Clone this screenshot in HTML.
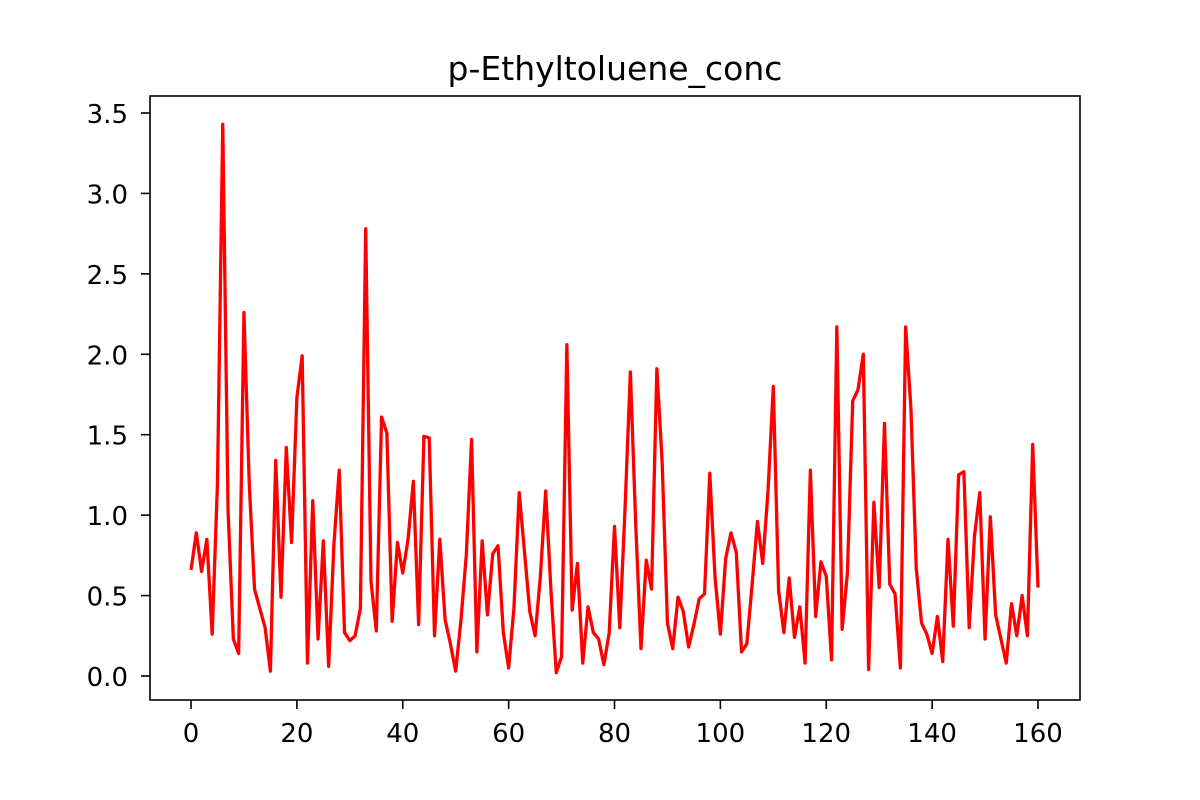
<!DOCTYPE html>
<html><head><meta charset="utf-8"><style>html,body{margin:0;padding:0;background:#fff}svg{display:block}</style></head>
<body>
<svg id="chart" width="1200" height="800" xmlns="http://www.w3.org/2000/svg">
<rect x="0" y="0" width="1200" height="800" fill="#fff"/>
<text x="615" y="80" text-anchor="middle" font-family="DejaVu Sans, sans-serif" font-size="33">p-Ethyltoluene_conc</text>
<g id="axes"></g>
<polyline id="line" fill="none" stroke="#ff0000" stroke-width="3.3" stroke-linejoin="round"/>
<rect x="150" y="96" width="930" height="604" fill="none" stroke="#000" stroke-width="1.6"/>
</svg>
<script>
const values = [0.66,0.89,0.65,0.85,0.26,1.2,3.43,1.03,0.23,0.14,2.26,1.2,0.54,0.42,0.3,0.03,1.34,0.49,1.42,0.83,1.73,1.99,0.08,1.09,0.23,0.84,0.06,0.82,1.28,0.27,0.22,0.25,0.42,2.78,0.59,0.28,1.61,1.51,0.34,0.83,0.64,0.85,1.21,0.32,1.49,1.48,0.25,0.85,0.35,0.2,0.03,0.35,0.75,1.47,0.15,0.84,0.38,0.76,0.81,0.27,0.05,0.42,1.14,0.77,0.4,0.25,0.62,1.15,0.53,0.02,0.12,2.06,0.41,0.7,0.08,0.43,0.27,0.23,0.07,0.27,0.93,0.3,1.05,1.89,0.95,0.17,0.72,0.54,1.91,1.33,0.33,0.17,0.49,0.4,0.18,0.32,0.48,0.51,1.26,0.61,0.26,0.73,0.89,0.77,0.15,0.2,0.57,0.96,0.7,1.15,1.8,0.53,0.27,0.61,0.24,0.43,0.08,1.28,0.37,0.71,0.62,0.1,2.17,0.29,0.64,1.71,1.78,2.0,0.04,1.08,0.55,1.57,0.57,0.51,0.05,2.17,1.66,0.67,0.33,0.26,0.14,0.37,0.09,0.85,0.31,1.25,1.27,0.3,0.87,1.14,0.23,0.99,0.38,0.23,0.08,0.45,0.25,0.5,0.25,1.44,0.55];
const xTicks = [0,20,40,60,80,100,120,140,160];
const yTicks = [0.0,0.5,1.0,1.5,2.0,2.5,3.0,3.5];
const xs = v => 191 + v * (1038 - 191) / 160;
const ys = v => 676 - v * (676 - 113) / 3.5;
const NS = 'http://www.w3.org/2000/svg';
const axes = document.getElementById('axes');
const font = 'DejaVu Sans, sans-serif';
xTicks.forEach(t => {
  const l = document.createElementNS(NS, 'line');
  l.setAttribute('x1', xs(t)); l.setAttribute('x2', xs(t));
  l.setAttribute('y1', 700); l.setAttribute('y2', 709);
  l.setAttribute('stroke', '#000'); l.setAttribute('stroke-width', '1.6');
  
  
  axes.appendChild(l);
  const tx = document.createElementNS(NS, 'text');
  tx.setAttribute('x', xs(t)); tx.setAttribute('y', 742);
  tx.setAttribute('text-anchor', 'middle'); tx.setAttribute('font-family', font); tx.setAttribute('font-size', '26');
  tx.textContent = t;
  
  
  axes.appendChild(tx);
});
yTicks.forEach(t => {
  const l = document.createElementNS(NS, 'line');
  l.setAttribute('x1', 141); l.setAttribute('x2', 150);
  l.setAttribute('y1', ys(t)); l.setAttribute('y2', ys(t));
  l.setAttribute('stroke', '#000'); l.setAttribute('stroke-width', '1.6');
  
  
  axes.appendChild(l);
  const tx = document.createElementNS(NS, 'text');
  tx.setAttribute('x', 128); tx.setAttribute('y', ys(t) + 10);
  tx.setAttribute('text-anchor', 'end'); tx.setAttribute('font-family', font); tx.setAttribute('font-size', '26');
  tx.textContent = t.toFixed(1);
  
  
  axes.appendChild(tx);
});
document.getElementById('line').setAttribute('points', values.map((v, i) => xs(i) + ',' + ys(v)).join(' '));
</script>
</body></html>
